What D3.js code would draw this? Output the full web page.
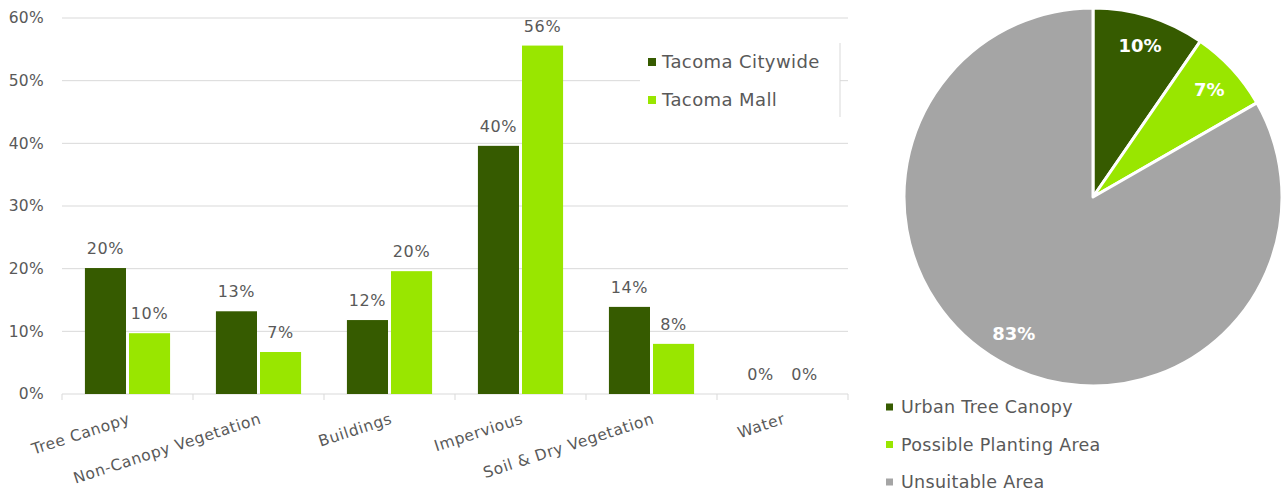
<!DOCTYPE html>
<html>
<head>
<meta charset="utf-8">
<script src="https://cdn.jsdelivr.net/npm/d3@7"></script>
<style>
  html, body { margin: 0; padding: 0; background: #fff; }
  svg text { font-family: "DejaVu Sans", sans-serif; }
</style>
</head>
<body>
<svg id="chart" width="1284" height="494"></svg>
<script>
// Land cover comparison: Tacoma Citywide vs Tacoma Mall
const categories = ["Tree Canopy", "Non-Canopy Vegetation", "Buildings", "Impervious", "Soil & Dry Vegetation", "Water"];
const seriesNames = ["Tacoma Citywide", "Tacoma Mall"];
const citywide = [0.201, 0.132, 0.118, 0.396, 0.139, 0.0];
const mall = [0.097, 0.067, 0.196, 0.556, 0.080, 0.0];
const yTicks = [0, 0.1, 0.2, 0.3, 0.4, 0.5, 0.6];

// Tacoma Mall canopy potential
const pieNames = ["Urban Tree Canopy", "Possible Planting Area", "Unsuitable Area"];
const pieValues = [0.096, 0.071, 0.833];

const DARK = "#365B00";
const LIGHT = "#99E600";
const GREY = "#A5A5A5";
const TEXT = "#595959";
const GRID = "#D9D9D9";

const svg = d3.select("#chart");
const pct = d3.format(".0%");

// ---------- Bar chart ----------
const plot = { left: 62, right: 848, top: 18, bottom: 394 };
const x0 = d3.scaleBand().domain(categories).range([plot.left, plot.right]);
const x1 = d3.scaleBand().domain(seriesNames).range([0, x0.bandwidth()]).paddingInner(0.068).paddingOuter(0.52);
const y = d3.scaleLinear().domain([0, 0.6]).range([plot.bottom, plot.top]);
const color = d3.scaleOrdinal().domain(seriesNames).range([DARK, LIGHT]);

// gridlines
svg.append("g").selectAll("line").data(yTicks.filter(d => d > 0)).join("line")
  .attr("x1", plot.left).attr("x2", plot.right)
  .attr("y1", d => y(d)).attr("y2", d => y(d))
  .attr("stroke", GRID).attr("stroke-width", 1);

// y axis labels
const yAxis = svg.append("g").attr("transform", `translate(${plot.left},0)`)
  .call(d3.axisLeft(y).tickValues(yTicks).tickFormat(d3.format(".0%")).tickSize(0).tickPadding(18));
yAxis.select(".domain").remove();
yAxis.selectAll("text").attr("fill", TEXT).style("font-size", "15.5px")
  .style("letter-spacing", "0.3px").style("font-family", "DejaVu Sans, sans-serif");

// x axis baseline and category ticks
const xAxis = svg.append("g").attr("transform", `translate(0,${plot.bottom})`);
xAxis.append("line").attr("x1", plot.left).attr("x2", plot.right).attr("stroke", GRID).attr("stroke-width", 1);
const boundaries = categories.map(c => x0(c)).concat([plot.right]);
xAxis.selectAll("line.tick").data(boundaries).join("line").attr("class", "tick")
  .attr("x1", d => d).attr("x2", d => d).attr("y1", 0).attr("y2", 6)
  .attr("stroke", GRID).attr("stroke-width", 1);
xAxis.selectAll("text").data(categories).join("text")
  .attr("transform", d => `translate(${x0(d) + x0.bandwidth() / 2},${18}) rotate(-18)`)
  .attr("text-anchor", "end")
  .attr("dy", "0.75em")
  .attr("fill", TEXT).style("font-size", "15.5px").style("letter-spacing", "0.6px")
  .text(d => d);

// bars
const rows = categories.map((c, i) => ({ cat: c, vals: [
  { s: seriesNames[0], v: citywide[i] },
  { s: seriesNames[1], v: mall[i] }
]}));
const groups = svg.append("g").selectAll("g").data(rows).join("g")
  .attr("transform", d => `translate(${x0(d.cat)},0)`);
groups.selectAll("rect").data(d => d.vals).join("rect")
  .attr("x", d => x1(d.s)).attr("width", x1.bandwidth())
  .attr("y", d => y(d.v)).attr("height", d => y(0) - y(d.v))
  .attr("fill", d => color(d.s));
groups.selectAll("text").data(d => d.vals).join("text")
  .attr("x", d => x1(d.s) + x1.bandwidth() / 2)
  .attr("y", d => y(d.v) - 14)
  .attr("text-anchor", "middle")
  .attr("fill", TEXT).style("font-size", "16px").style("letter-spacing", "0.6px")
  .text(d => pct(d.v));

// bar legend
const leg = svg.append("g");
leg.append("rect").attr("x", 640).attr("y", 43).attr("width", 200).attr("height", 74).attr("fill", "#fff");
leg.append("line").attr("x1", 840).attr("x2", 840).attr("y1", 43).attr("y2", 117).attr("stroke", GRID);
leg.selectAll("g").data(seriesNames).join("g")
  .attr("transform", (d, i) => `translate(648,${62 + i * 38})`)
  .each(function (d) {
    const g = d3.select(this);
    g.append("rect").attr("x", 0).attr("y", -4).attr("width", 8).attr("height", 8).attr("fill", color(d));
    g.append("text").attr("x", 14).attr("dy", "0.35em").attr("fill", TEXT)
      .style("font-size", "18px").style("letter-spacing", "0.4px").text(d);
  });

// ---------- Pie chart ----------
const cx = 1093, cy = 197, R = 189;
const pieColor = d3.scaleOrdinal().domain(pieNames).range([DARK, LIGHT, GREY]);
const pie = d3.pie().sort(null).value(d => d.v);
const arcs = pie(pieNames.map((n, i) => ({ n, v: pieValues[i] })));
const arc = d3.arc().innerRadius(0).outerRadius(R);
const labelArc = d3.arc().innerRadius(158).outerRadius(158);
const pg = svg.append("g").attr("transform", `translate(${cx},${cy})`);
pg.selectAll("path").data(arcs).join("path")
  .attr("d", arc).attr("fill", d => pieColor(d.data.n))
  .attr("stroke", "#fff").attr("stroke-width", 3).attr("stroke-linejoin", "round");
pg.selectAll("text").data(arcs).join("text")
  .attr("transform", d => `translate(${labelArc.centroid(d)})`)
  .attr("text-anchor", "middle").attr("dy", "0.35em")
  .attr("fill", "#fff").style("font-size", "18px").style("font-weight", "bold")
  .text(d => pct(d.data.v));

// pie legend
svg.append("g").selectAll("g").data(pieNames).join("g")
  .attr("transform", (d, i) => `translate(886,${407 + i * 37.5})`)
  .each(function (d) {
    const g = d3.select(this);
    g.append("rect").attr("x", 0).attr("y", -3.5).attr("width", 7).attr("height", 7).attr("fill", pieColor(d));
    g.append("text").attr("x", 15).attr("dy", "0.35em").attr("fill", TEXT)
      .style("font-size", "17.5px").style("letter-spacing", "0.3px").text(d);
  });
</script>
</body>
</html>
